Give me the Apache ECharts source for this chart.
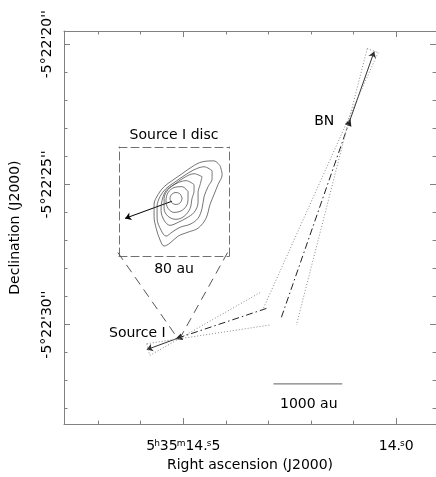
<!DOCTYPE html>
<html><head><meta charset="utf-8">
<script src="https://cdn.jsdelivr.net/npm/echarts@6/dist/echarts.min.js"></script>
<style>html,body{margin:0;padding:0;background:#fff}#c{width:436px;height:477px}</style>
</head><body><div id="c"></div>
<script>
// ---- axis ticks / labels (RA in seconds of 5h35m, Dec in arcsec of -5°22') ----
const raMinorTicks = [14.7, 14.6, 14.5, 14.4, 14.3, 14.2, 14.1, 14.0];
const raMajorTicks = [14.5, 14.0];
const decMinorTicks = [20, 21, 22, 23, 24, 25, 26, 27, 28, 29, 30, 31, 32, 33];
const decMajorTicks = [20, 25, 30];
const raRange = [13.9066, 14.7801];
const decRange = [19.528, 33.549];

// ---- sources and motions ----
const sourceI = [14.5108, 30.472];
const bn = [14.1103, 22.780];
const sourceIArrowEnd = [14.5857, 30.892];
const bnArrowEnd = [14.0518, 20.262];
const sourceIOrigin = [14.3047, 29.423];
const bnOrigin = [14.2696, 29.738];

// uncertainty cones (dotted)
const bnConeA = [[14.0681, 20.157], [14.2344, 30.017]];
const bnConeB = [[14.0424, 20.297], [14.3141, 29.493]];
const bnConeCap = [[14.0681, 20.157], [14.0424, 20.297]];
const siConeA = [[14.5857, 30.682], [14.2977, 30.017]];
const siConeB = [[14.5787, 31.101], [14.3164, 28.829]];
const siConeCap = [[14.5857, 30.682], [14.5787, 31.101]];

// inset connector (dashed) and scale bar
const connectorLeft = [[14.6536, 27.430], [14.5155, 30.437]];
const connectorRight = [[14.3960, 27.430], [14.5061, 30.437]];
const scaleBar = [[14.2883, 32.115], [14.1267, 32.115]];

// ---- inset: Source I disc contours (au offsets) ----
const insetRange = [-40, 40];
const contour1 = [[5.9,2.2],[4.6,5.3],[1.5,6.6],[-1.6,5.3],[-2.9,2.2],[-1.6,-0.9],[1.5,-2.2],[4.6,-0.9],[5.9,2.2]];
const contour2 = [[10.2,7.3],[5.9,10.9],[0.0,10.2],[-4.3,6.6],[-5.8,0.7],[-4.3,-5.1],[0.0,-8.0],[5.9,-6.5],[9.5,-2.2],[10.2,2.9],[10.2,7.3]];
const contour3 = [[14.6,12.4],[8.8,15.3],[1.5,13.1],[-4.3,8.7],[-7.2,2.2],[-7.2,-5.1],[-4.3,-10.9],[1.5,-13.1],[7.3,-10.9],[11.7,-5.1],[13.1,2.2],[14.6,8.0],[14.6,12.4]];
const contour4 = [[20.4,18.2],[14.6,20.4],[7.3,17.5],[0.0,12.4],[-5.8,8.0],[-8.7,0.7],[-9.4,-6.5],[-7.2,-13.8],[-2.9,-17.5],[3.0,-15.3],[8.8,-12.3],[14.6,-8.0],[17.5,-0.7],[17.5,6.6],[19.0,12.4],[20.4,18.2]];
const contour5 = [[27.7,22.6],[21.9,25.5],[14.6,23.3],[7.3,18.9],[0.0,13.8],[-5.8,9.5],[-10.1,3.7],[-12.3,-3.6],[-12.3,-12.3],[-9.4,-21.1],[-5.8,-25.4],[-1.4,-22.5],[4.4,-18.9],[11.7,-16.7],[17.5,-12.3],[20.4,-5.1],[21.9,3.7],[24.8,10.9],[27.7,16.7],[27.7,22.6]];
const contour6 = [[33.5,26.2],[29.1,29.8],[20.4,29.1],[13.1,25.5],[5.9,20.4],[-1.4,15.3],[-7.2,10.9],[-11.6,5.1],[-14.5,-2.2],[-14.5,-10.9],[-13.0,-19.6],[-10.1,-28.3],[-7.2,-32.7],[-2.9,-30.5],[3.0,-25.4],[10.2,-22.5],[17.5,-19.6],[23.3,-12.3],[26.2,-2.2],[29.1,5.1],[32.0,12.4],[35.0,19.7],[33.5,26.2]];
const discArrow = [[-1.5, 0.2], [-35.6, -12.4]];

// ---- text ----
const FONT = 'DejaVu Sans';
const texts = {bn: 'BN', si: 'Source I', disc: 'Source I disc', discScale: '80 au', scale: '1000 au',
  xName: 'Right ascension (J2000)', yName: 'Declination (J2000)'};

const FRAME = '#808080';
function raFmt(v) {
  if (Math.abs(v - 14.5) < 1e-6) return '5{h|h}35{h|m}14.{h|s}5';
  if (Math.abs(v - 14.0) < 1e-6) return '14.{h|s}0';
  return '';
}
function raAxis(pos, major, withLabel) {
  return {
    type: 'value', gridIndex: 0, position: pos, min: raRange[0], max: raRange[1], inverse: true,
    name: withLabel ? texts.xName : '', nameLocation: 'middle', nameGap: 28,
    nameTextStyle: {fontFamily: FONT, fontSize: 14, color: '#000'},
    axisLine: {show: major, onZero: false, lineStyle: {color: FRAME, width: 1}},
    axisTick: {show: true, inside: true, length: major ? 6 : 3.5, customValues: major ? raMajorTicks : raMinorTicks,
      lineStyle: {color: FRAME, width: 1}},
    axisLabel: {show: withLabel, customValues: raMajorTicks, margin: 15, formatter: raFmt,
      fontFamily: FONT, fontSize: 14, color: '#000',
      rich: {h: {fontFamily: FONT, fontSize: 9, color: '#000', verticalAlign: 'top', padding: [0, 0, 0, -1]}}},
    splitLine: {show: false}
  };
}
function decAxis(pos, major, withLabel) {
  return {
    type: 'value', gridIndex: 0, position: pos, min: decRange[0], max: decRange[1], inverse: true,
    name: withLabel ? texts.yName : '', nameLocation: 'middle', nameGap: 42,
    nameTextStyle: {fontFamily: FONT, fontSize: 14, color: '#000'},
    axisLine: {show: major, onZero: false, lineStyle: {color: FRAME, width: 1}},
    axisTick: {show: true, inside: true, length: major ? 6 : 3.5, customValues: major ? decMajorTicks : decMinorTicks,
      lineStyle: {color: FRAME, width: 1}},
    axisLabel: {show: withLabel, customValues: decMajorTicks, rotate: 90, margin: 10,
      formatter: v => "-5°22'" + Math.round(v) + "''",
      fontFamily: FONT, fontSize: 14, color: '#000'},
    splitLine: {show: false}
  };
}
function insetAxis(pos, name, gap) {
  return {
    type: 'value', gridIndex: 1, position: pos, min: insetRange[0], max: insetRange[1],
    name: name || '', nameLocation: 'middle', nameGap: gap || 0,
    nameTextStyle: {fontFamily: FONT, fontSize: 14, color: '#000'},
    axisLine: {show: true, onZero: false, lineStyle: {color: '#707070', width: 1, type: [8, 4]}},
    axisTick: {show: false}, axisLabel: {show: false}, splitLine: {show: false}
  };
}

const contourSeries = [contour1, contour2, contour3, contour4, contour5, contour6].map(c => ({
  type: 'line', xAxisIndex: 4, yAxisIndex: 4, data: c, smooth: 0.35, symbol: 'none',
  lineStyle: {color: '#505050', width: 0.8}, silent: true
}));
function seg(pts, style, xi, yi) {
  return {type: 'line', xAxisIndex: xi || 0, yAxisIndex: yi || 0, data: pts, symbol: 'none',
    lineStyle: style, silent: true};
}
const dotted = {color: '#8a8a8a', width: 1, type: [1, 2]};
const dashed = {color: '#555', width: 1, type: [9, 6]};
const labelStyle = {show: true, fontFamily: FONT, fontSize: 14, color: '#000', textBorderWidth: 0, opacity: 1};

const option = {
  animation: false,
  backgroundColor: '#fff',
  grid: [
    {left: 64, top: 31, right: -1, bottom: 45},
    {left: 119, top: 147, width: 110, height: 109}
  ],
  xAxis: [raAxis('bottom', true, true), raAxis('bottom', false, false), raAxis('top', true, false), raAxis('top', false, false),
    insetAxis('bottom', texts.discScale, 6), insetAxis('top', texts.disc, 5)],
  yAxis: [decAxis('left', true, true), decAxis('left', false, false), decAxis('right', true, false), decAxis('right', false, false),
    insetAxis('left'), insetAxis('right')],
  series: [
    ...contourSeries,
    {type: 'lines', coordinateSystem: 'cartesian2d', xAxisIndex: 4, yAxisIndex: 4,
      symbol: ['none', 'arrow'], symbolSize: 6, data: [{coords: discArrow}],
      lineStyle: {color: '#000', width: 1, opacity: 1}, silent: true},
    seg(connectorLeft, dashed), seg(connectorRight, dashed),
    seg(bnConeA, dotted), seg(bnConeB, dotted), seg(bnConeCap, dotted),
    seg(siConeA, dotted), seg(siConeB, dotted), seg(siConeCap, dotted),
    seg(scaleBar, {color: '#606060', width: 1}),
    {type: 'lines', coordinateSystem: 'cartesian2d', xAxisIndex: 0, yAxisIndex: 0,
      symbol: ['none', 'triangle'], symbolSize: 7,
      data: [{coords: [bnOrigin, bn]}, {coords: [sourceIOrigin, sourceI]}],
      lineStyle: {color: '#222', width: 1, type: [7, 3, 1.5, 3], opacity: 1}, silent: true},
    {type: 'lines', coordinateSystem: 'cartesian2d', xAxisIndex: 0, yAxisIndex: 0,
      symbol: ['none', 'arrow'], symbolSize: 6,
      data: [{coords: [bn, bnArrowEnd]}, {coords: [sourceI, sourceIArrowEnd]}],
      lineStyle: {color: '#333', width: 1, opacity: 1}, silent: true},
    {type: 'scatter', xAxisIndex: 0, yAxisIndex: 0, symbolSize: 0, silent: true,
      itemStyle: {color: '#000', opacity: 1},
      data: [
        {value: bn, label: Object.assign({}, labelStyle, {formatter: texts.bn, position: 'left', distance: 15, offset: [0, -1]})},
        {value: sourceI, label: Object.assign({}, labelStyle, {formatter: texts.si, position: 'left', distance: 13, offset: [0, -4]})}
      ]}
  ],
  graphic: [
    {type: 'text', left: 280, top: 397, style: {text: texts.scale, fontFamily: FONT, fontSize: 14, fill: '#000'}}
  ]
};
const chart = echarts.init(document.getElementById('c'), null, {renderer: 'canvas'});
chart.setOption(option);
</script>
</body></html>
